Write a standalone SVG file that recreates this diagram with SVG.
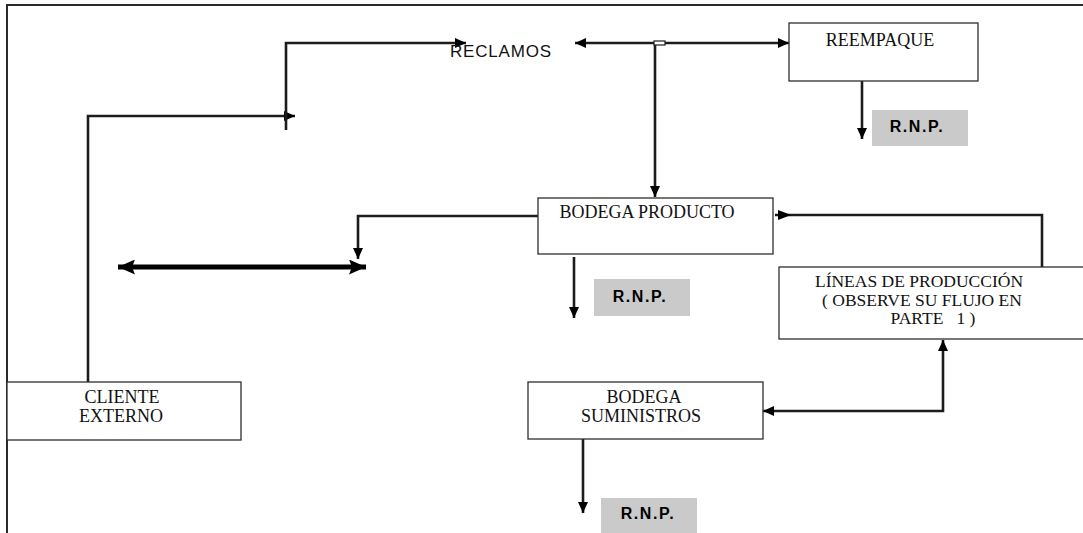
<svg xmlns="http://www.w3.org/2000/svg" width="1083" height="533" viewBox="0 0 1083 533">
  <style>
    .frame { fill: none; stroke: #2a2a2a; stroke-width: 2; }
    .box { fill: #ffffff; stroke: #2e2e2e; stroke-width: 1.3; }
    .tag { fill: #cacaca; stroke: none; }
    .lbl { font-family: "Liberation Serif", "Times New Roman", serif; font-size: 18px; fill: #111; text-anchor: middle; }
    .lbl.small { font-size: 17.5px; }
    .tagtxt { font-family: "Liberation Sans", Arial, sans-serif; font-size: 16px; font-weight: bold; fill: #000; text-anchor: middle; letter-spacing: 1.6px; }
    .free { font-family: "Liberation Sans", Arial, sans-serif; font-size: 17px; fill: #111; letter-spacing: 0.8px; }
    .wire { fill: none; stroke: #1c1c1c; stroke-width: 2.6; }
    .heavy { fill: none; stroke: #000; stroke-width: 5; }
  </style>
  <defs>
    <marker id="ah" markerUnits="userSpaceOnUse" markerWidth="11" markerHeight="10" refX="11" refY="5" orient="auto-start-reverse">
      <path d="M0,0 L11,5 L0,10 z" fill="#000"/>
    </marker>
    <marker id="ahBig" markerUnits="userSpaceOnUse" markerWidth="17" markerHeight="15" refX="17" refY="7.5" orient="auto-start-reverse">
      <path d="M0,0 L17,7.5 L0,15 L3,7.5 z" fill="#000"/>
    </marker>
  </defs>

  <!-- page frame -->
  <path class="frame" d="M7,533 V5 H1083"/>

  <!-- connectors -->
  <g id="connectors">
    <path class="wire" d="M88,382 V116 H295" marker-end="url(#ah)"/>
    <path class="wire" d="M286,130 V43 H466" marker-end="url(#ah)"/>
    <path class="wire" d="M575,43 H789" marker-start="url(#ah)" marker-end="url(#ah)"/>
    <rect x="654" y="41" width="11" height="4" fill="#fff" stroke="#1c1c1c" stroke-width="1.2"/>
    <path class="wire" d="M655,45 V197" marker-end="url(#ah)"/>
    <path class="wire" d="M862,67 V139" marker-end="url(#ah)"/>
    <path class="wire" d="M538,216 H358 V259" marker-end="url(#ah)"/>
    <path class="heavy" d="M118,267 H366" marker-start="url(#ahBig)" marker-end="url(#ahBig)"/>
    <path class="wire" d="M574,257 V318" marker-end="url(#ah)"/>
    <path class="wire" d="M1042,274 V215 H775"/>
    <path d="M778,210 L791,215 L778,220 z" fill="#000"/>
    <path class="wire" d="M763,411 H943 V340" marker-start="url(#ah)" marker-end="url(#ah)"/>
    <path class="wire" d="M583,439 V513" marker-end="url(#ah)"/>
  </g>

  <!-- free label -->
  <g id="reclamos">
    <text class="free" x="450" y="57">RECLAMOS</text>
  </g>

  <g id="reempaque">
    <rect class="box" x="789" y="23" width="189" height="58"/>
    <text class="lbl" x="880" y="46">REEMPAQUE</text>
  </g>

  <g id="rnp-reempaque">
    <rect class="tag" x="872" y="110" width="96" height="36"/>
    <text class="tagtxt" x="917" y="132">R.N.P.</text>
  </g>

  <g id="bodega-producto">
    <rect class="box" x="538" y="198" width="235" height="56"/>
    <text class="lbl" x="647" y="218">BODEGA PRODUCTO</text>
  </g>

  <g id="rnp-producto">
    <rect class="tag" x="594" y="279" width="96" height="37"/>
    <text class="tagtxt" x="640" y="302">R.N.P.</text>
  </g>

  <g id="lineas-produccion">
    <rect class="box" x="779" y="267" width="310" height="72"/>
    <text class="lbl small" x="919" y="287">LÍNEAS DE PRODUCCIÓN</text>
    <text class="lbl small" x="922" y="306">( OBSERVE SU FLUJO EN</text>
    <text class="lbl small" x="933" y="324" style="white-space:pre">PARTE   1 )</text>
  </g>

  <g id="cliente-externo">
    <rect class="box" x="7" y="382" width="234" height="58"/>
    <text class="lbl" x="122" y="403">CLIENTE</text>
    <text class="lbl" x="121" y="422">EXTERNO</text>
  </g>

  <g id="bodega-suministros">
    <rect class="box" x="528" y="382" width="235" height="57"/>
    <text class="lbl" x="644" y="403">BODEGA</text>
    <text class="lbl" x="641" y="422">SUMINISTROS</text>
  </g>

  <g id="rnp-suministros">
    <rect class="tag" x="601" y="498" width="96" height="37"/>
    <text class="tagtxt" x="648" y="519">R.N.P.</text>
  </g>
</svg>
